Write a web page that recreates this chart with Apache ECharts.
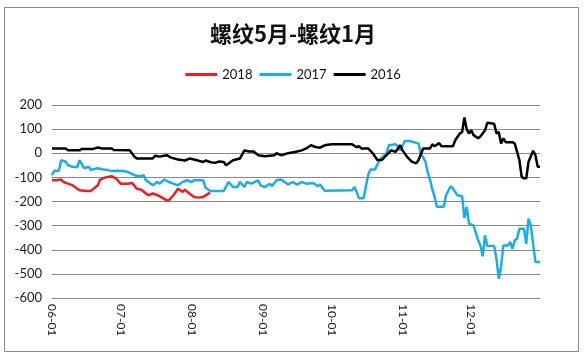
<!DOCTYPE html>
<html>
<head>
<meta charset="utf-8">
<script src="https://cdn.jsdelivr.net/npm/echarts@6/dist/echarts.min.js"></script>
<style>
html,body{margin:0;padding:0;background:#fff;}
#frame{position:absolute;left:4px;top:7px;width:575px;height:345px;border:1px solid #8c8c8c;box-sizing:border-box;}
#chart{position:absolute;left:0;top:0;width:586px;height:362px;}
</style>
</head>
<body>
<div id="frame"></div>
<div id="chart"></div>
<script>
// Tick labels (month starts) and the day categories from 06-01 to 12-31
const monthLabels = ['06-01','07-01','08-01','09-01','10-01','11-01','12-01'];
const monthDays = [['06',30],['07',31],['08',31],['09',30],['10',31],['11',30],['12',31]];
const categories = [];
monthDays.forEach(([m, n]) => { for (let i = 1; i <= n; i++) categories.push(m + '-' + String(i).padStart(2, '0')); });

const yTicks = [-600, -500, -400, -300, -200, -100, 0, 100, 200];
const seriesNames = ['2018', '2017', '2016'];

const s2018 = [
  ['06-01',-112],['06-03',-112],['06-05',-109],['06-06',-119],['06-08',-126],['06-10',-133],['06-11',-140],
  ['06-13',-153],['06-16',-156],['06-18',-156],['06-21',-133],['06-22',-109],['06-24',-101],['06-27',-95],
  ['06-29',-105],['07-01',-126],['07-04',-126],['07-06',-123],['07-08',-147],['07-10',-151],['07-12',-167],
  ['07-13',-174],['07-15',-167],['07-17',-174],['07-19',-184],['07-21',-195],['07-22',-195],['07-24',-174],
  ['07-26',-147],['07-28',-160],['07-29',-151],['07-31',-167],['08-02',-181],['08-04',-184],['08-06',-181],
  ['08-09',-163]
];

const s2017 = [
  ['06-01',-91],['06-02',-73],['06-04',-73],['06-05',-29],['06-07',-35],['06-08',-50],['06-10',-56],
  ['06-12',-58],['06-13',-29],['06-15',-62],['06-17',-56],['06-18',-69],['06-21',-62],['06-23',-66],
  ['06-25',-69],['06-27',-74],['06-29',-73],['07-02',-74],['07-04',-77],['07-07',-91],['07-09',-95],
  ['07-11',-91],['07-12',-112],['07-15',-133],['07-17',-119],['07-18',-126],['07-20',-109],['07-22',-119],
  ['07-24',-126],['07-26',-133],['07-28',-119],['07-30',-112],['08-01',-119],['08-02',-112],['08-06',-112],
  ['08-07',-142],['08-09',-156],['08-15',-156],['08-17',-119],['08-19',-140],['08-21',-140],['08-22',-119],
  ['08-24',-140],['08-25',-119],['08-27',-126],['08-30',-112],['08-31',-133],['09-02',-140],['09-04',-126],
  ['09-05',-137],['09-07',-112],['09-09',-109],['09-12',-130],['09-14',-119],['09-16',-130],['09-18',-119],
  ['09-20',-126],['09-23',-123],['09-25',-137],['09-26',-130],['09-28',-155],['10-10',-153],['10-11',-140],
  ['10-12',-161],['10-13',-187],['10-15',-187],['10-17',-90],['10-18',-67],['10-20',-67],['10-22',-28],
  ['10-25',0],['10-26',33],['10-29',37],['10-30',28],['10-31',12],['11-02',51],['11-04',51],['11-06',46],
  ['11-08',40],['11-09',0],['11-11',-35],['11-12',-78],['11-13',-110],['11-14',-150],['11-15',-181],
  ['11-16',-222],['11-19',-222],['11-20',-174],['11-22',-137],['11-23',-147],['11-25',-174],['11-27',-178],
  ['11-28',-268],['11-29',-222],['11-30',-292],['12-02',-299],['12-04',-361],['12-05',-382],['12-06',-427],
  ['12-07',-340],['12-08',-384],['12-11',-384],['12-12',-437],['12-13',-520],['12-14',-471],['12-15',-382],
  ['12-17',-382],['12-18',-368],['12-19',-396],['12-20',-361],['12-21',-354],['12-22',-313],['12-24',-313],
  ['12-25',-375],['12-26',-271],['12-27',-299],['12-29',-451],['12-31',-451]
];

const s2016 = [
  ['06-01',20],['06-07',20],['06-08',12],['06-13',12],['06-14',18],['06-19',18],['06-21',24],['06-23',20],
  ['06-27',20],['06-28',13],['07-05',12],['07-07',-15],['07-08',-22],['07-15',-22],['07-16',-10],['07-18',-14],
  ['07-21',-8],['07-23',-18],['07-26',-26],['07-29',-30],['07-31',-22],['08-02',-26],['08-06',-36],['08-07',-30],
  ['08-09',-36],['08-11',-40],['08-13',-34],['08-15',-36],['08-16',-50],['08-19',-29],['08-22',-22],['08-24',12],
  ['08-26',7],['08-28',7],['08-30',-8],['09-02',-12],['09-06',-8],['09-07',0],['09-09',-8],['09-12',0],
  ['09-15',5],['09-18',12],['09-20',20],['09-22',33],['09-24',26],['09-26',23],['09-28',33],['10-01',37],
  ['10-10',37],['10-12',25],['10-13',29],['10-14',20],['10-17',20],['10-19',0],['10-21',-28],['10-23',-28],
  ['10-25',-8],['10-27',12],['10-29',6],['10-31',33],['11-01',12],['11-03',-15],['11-05',-35],['11-07',-42],
  ['11-08',-28],['11-10',20],['11-13',20],['11-14',37],['11-15',29],['11-17',42],['11-18',29],['11-23',29],
  ['11-24',54],['11-26',82],['11-27',87],['11-28',148],['11-29',100],['11-30',82],['12-01',95],['12-02',75],
  ['12-04',62],['12-05',69],['12-07',95],['12-08',126],['12-11',122],['12-12',82],['12-13',88],['12-14',40],
  ['12-15',62],['12-16',46],['12-19',46],['12-20',40],['12-22',-28],['12-23',-98],['12-24',-104],['12-25',-104],
  ['12-26',-35],['12-28',10],['12-29',-8],['12-30',-56],['12-31',-56]
];

const colors = ['#ee1c25', '#1cade4', '#000000'];
const font = 'Lato, "Noto Sans", sans-serif';

const chart = echarts.init(document.getElementById('chart'), null, {renderer: 'canvas'});
chart.setOption({
  animation: false,
  title: {
    text: '螺纹5月-螺纹1月',
    left: 'center', top: 18,
    textStyle: {fontFamily: '"Noto Sans CJK SC", sans-serif', fontSize: 22, fontWeight: 'bold', color: '#111'}
  },
  legend: {
    top: 63, left: 'center',
    itemWidth: 32, itemHeight: 3, itemGap: 7,
    icon: 'rect',
    textStyle: {fontFamily: font, fontSize: 13, color: '#111'},
    data: seriesNames
  },
  grid: {left: 52, right: 46, top: 105, bottom: 64, containLabel: false},
  xAxis: {
    type: 'category',
    data: categories,
    boundaryGap: false,
    axisLine: {lineStyle: {color: '#888', width: 1}},
    axisTick: {show: false},
    axisLabel: {
      rotate: -90,
      interval: (i, v) => monthLabels.includes(v),
      fontFamily: font, fontSize: 12, color: '#222', margin: 6
    },
    splitLine: {show: false}
  },
  yAxis: {
    type: 'value',
    min: yTicks[0], max: yTicks[yTicks.length - 1], interval: 100,
    axisLine: {show: false},
    axisTick: {show: false},
    axisLabel: {fontFamily: font, fontSize: 13, color: '#222', margin: 10},
    splitLine: {lineStyle: {color: '#888', width: 1}}
  },
  series: [
    {name: seriesNames[0], type: 'line', data: s2018, color: colors[0], showSymbol: false, lineStyle: {width: 2.5}, z: 4},
    {name: seriesNames[1], type: 'line', data: s2017, color: colors[1], showSymbol: false, lineStyle: {width: 2.5}, z: 2},
    {name: seriesNames[2], type: 'line', data: s2016, color: colors[2], showSymbol: false, lineStyle: {width: 2.5}, z: 3}
  ]
});
</script>
</body>
</html>
